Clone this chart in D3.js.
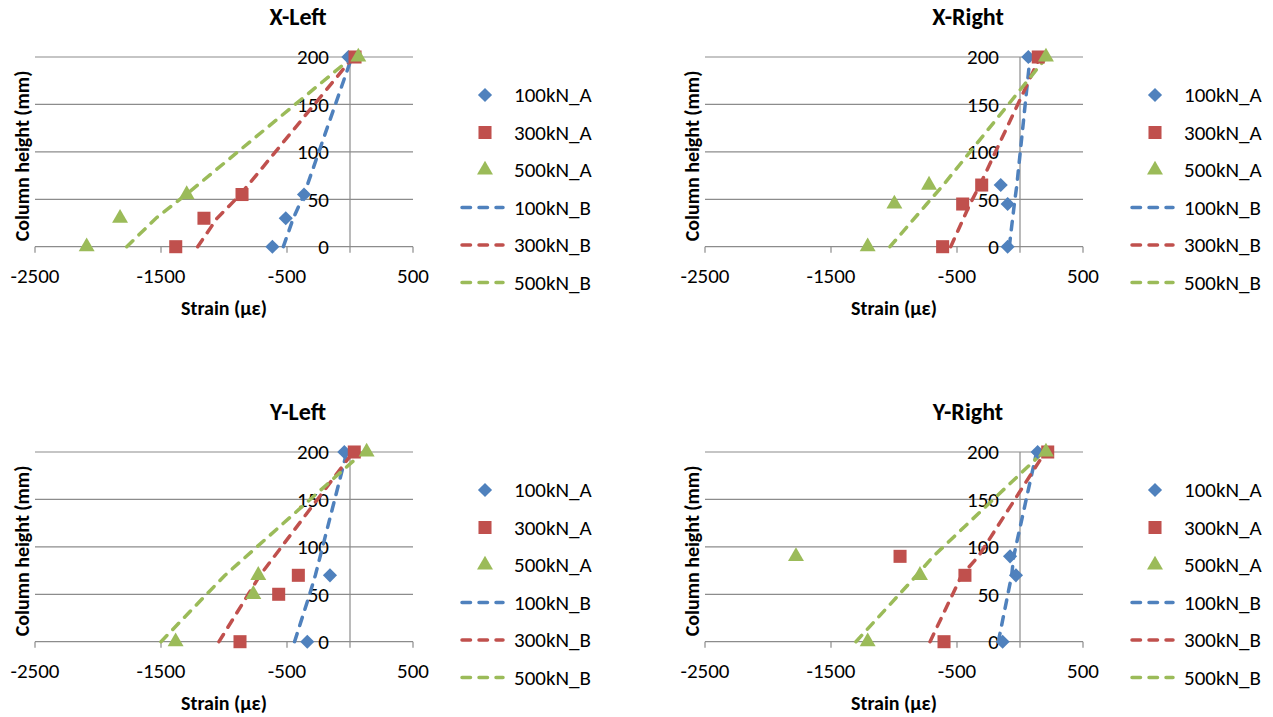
<!DOCTYPE html>
<html>
<head>
<meta charset="utf-8">
<script src="https://cdn.jsdelivr.net/npm/d3@7"></script>
<style>
    body { margin: 0; background: white; }
    text { font-family: Carlito, Calibri, 'Liberation Sans', Arial, sans-serif; fill: black; }
</style>
</head>
<body>
<div id="container"></div>
<script>
// axis ticks
const strainTicks = [-2500, -1500, -500, 500];
const heightTicks = [0, 50, 100, 150, 200];
const seriesNames = ['100kN_A', '300kN_A', '500kN_A', '100kN_B', '300kN_B', '500kN_B'];
const panelTitles = ['X-Left', 'X-Right', 'Y-Left', 'Y-Right'];

// X-Left
const xLeftHeights = [0, 30, 55, 200];
const xLeftA = [[-616, -510, -365, -13], [-1383, -1159, -857, 40], [-2090, -1825, -1296, 66]];
const xLeftB = [[-529, -450, -365, 15], [-1209, -1055, -870, 26], [-1772, -1540, -1300, 20]];

// X-Right
const xRightHeights = [0, 45, 65, 200];
const xRightA = [[-98, -98, -153, 66], [-614, -455, -304, 145], [-1209, -997, -722, 206]];
const xRightB = [[-85, -45, -25, 80], [-550, -397, -318, 159], [-1032, -740, -609, 212]];

// Y-Left (no 100kN_A reading at 50)
const yLeftHeights = [0, 50, 70, 200];
const yLeftA = [[-339, null, -159, -45], [-873, -566, -410, 34], [-1384, -767, -728, 132]];
const yLeftB = [[-440, -320, -275, -25], [-1040, -807, -714, 26], [-1500, -1138, -992, 106]];

// Y-Right
const yRightHeights = [0, 70, 90, 200];
const yRightA = [[-138, -32, -79, 140], [-603, -437, -952, 220], [-1209, -794, -1778, 206]];
const yRightB = [[-172, -66, -50, 132], [-714, -463, -330, 200], [-1302, -820, -688, 185]];

const colors = ['#4F81BD', '#C0504D', '#9BBB59'];

let viz = d3.select('#container')
    .append('svg')
    .attr('width', 1273)
    .attr('height', 717)
    ;

let panels = [
    { title: panelTitles[0], heights: xLeftHeights, a: xLeftA, b: xLeftB, dx: 0, dy: 0 },
    { title: panelTitles[1], heights: xRightHeights, a: xRightA, b: xRightB, dx: 670, dy: 0 },
    { title: panelTitles[2], heights: yLeftHeights, a: yLeftA, b: yLeftB, dx: 0, dy: 395 },
    { title: panelTitles[3], heights: yRightHeights, a: yRightA, b: yRightB, dx: 670, dy: 395 }
];

let x = d3.scaleLinear().domain([-2500, 500]).range([35, 413]);
let y = d3.scaleLinear().domain([0, 200]).range([246.7, 57]);

function markerPath(i) {
    if (i == 0) {
        return d3.symbol().type(d3.symbolSquare).size(100)();
    }
    if (i == 1) {
        return d3.symbol().type(d3.symbolSquare).size(170)();
    }
    return d3.symbol().type(d3.symbolTriangle).size(110)();
}
function markerRotate(i) {
    return i == 0 ? ' rotate(45)' : '';
}

function drawPanel(p) {
    let g = viz.append('g')
        .attr('transform', 'translate(' + p.dx + ',' + p.dy + ')');

    // gridlines
    g.selectAll('.grid').data(heightTicks).enter()
        .append('line')
        .attr('x1', x(-2500))
        .attr('x2', x(500))
        .attr('y1', d => y(d))
        .attr('y2', d => y(d))
        .attr('stroke', '#8c8c8c')
        .attr('stroke-width', 1.2);

    // vertical axis at 0
    g.append('line')
        .attr('x1', x(0)).attr('x2', x(0))
        .attr('y1', y(200)).attr('y2', y(0) + 6)
        .attr('stroke', '#8c8c8c')
        .attr('stroke-width', 1.2);

    // x tick marks
    g.selectAll('.xtick').data(strainTicks).enter()
        .append('line')
        .attr('x1', d => x(d)).attr('x2', d => x(d))
        .attr('y1', y(0)).attr('y2', y(0) + 6)
        .attr('stroke', '#8c8c8c')
        .attr('stroke-width', 1.2);

    g.selectAll('.xlab').data(strainTicks).enter()
        .append('text')
        .attr('x', d => x(d))
        .attr('y', 283)
        .attr('text-anchor', 'middle')
        .style('font-size', '21px')
        .text(d => d);

    g.selectAll('.ylab').data(heightTicks).enter()
        .append('text')
        .attr('x', x(0) - 21)
        .attr('y', d => y(d))
        .attr('dy', '0.35em')
        .attr('text-anchor', 'end')
        .style('font-size', '21px')
        .text(d => d);

    // titles
    g.append('text')
        .attr('x', 298).attr('y', 25)
        .attr('text-anchor', 'middle')
        .style('font-size', '24px').style('font-weight', 'bold')
        .text(p.title);

    g.append('text')
        .attr('x', 224).attr('y', 315)
        .attr('text-anchor', 'middle')
        .style('font-size', '20px').style('font-weight', 'bold')
        .text('Strain (με)');

    g.append('text')
        .attr('transform', 'translate(29,156) rotate(-90)')
        .attr('text-anchor', 'middle')
        .style('font-size', '20px').style('font-weight', 'bold')
        .text('Column height (mm)');

    // B series, dashed lines
    let line = d3.line()
        .x(d => x(d.v))
        .y(d => y(d.h));

    p.b.forEach(function (vals, i) {
        let pts = vals.map((v, k) => ({ v: v, h: p.heights[k] }));
        g.append('path')
            .attr('d', line(pts))
            .attr('fill', 'none')
            .attr('stroke', colors[i])
            .attr('stroke-width', 3.5)
            .attr('stroke-linecap', 'round')
            .attr('stroke-dasharray', '8.5,8.5');
    });

    // A series, markers
    p.a.forEach(function (vals, i) {
        let pts = vals.map((v, k) => ({ v: v, h: p.heights[k] })).filter(d => d.v != null);
        g.selectAll('.m' + i).data(pts).enter()
            .append('path')
            .attr('d', markerPath(i))
            .attr('transform', d => 'translate(' + x(d.v) + ',' + y(d.h) + ')' + markerRotate(i))
            .attr('fill', colors[i]);
    });

    // legend
    let legend = g.selectAll('.legend').data(seriesNames).enter()
        .append('g')
        .attr('transform', (d, i) => 'translate(0,' + (95 + i * 37.5) + ')');

    legend.each(function (d, i) {
        let lg = d3.select(this);
        if (i < 3) {
            lg.append('path')
                .attr('d', markerPath(i))
                .attr('transform', 'translate(485,0)' + markerRotate(i))
                .attr('fill', colors[i]);
        } else {
            lg.append('line')
                .attr('x1', 462).attr('x2', 503)
                .attr('stroke', colors[i - 3])
                .attr('stroke-width', 3.5)
                .attr('stroke-linecap', 'round')
                .attr('stroke-dasharray', '8.5,8.5');
        }
        lg.append('text')
            .attr('x', 514)
            .attr('dy', '0.35em')
            .style('font-size', '21px')
            .text(d);
    });
}

panels.forEach(drawPanel);
</script>
</body>
</html>
